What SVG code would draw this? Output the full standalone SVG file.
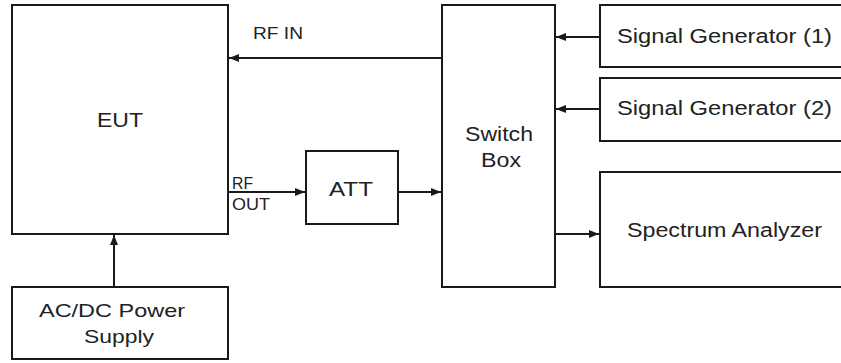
<svg xmlns="http://www.w3.org/2000/svg" width="841" height="363" viewBox="0 0 841 363">
  <style>
    .box { fill: #ffffff; stroke: #1a1a1a; stroke-width: 2; }
    .conn { stroke: #1a1a1a; stroke-width: 2; fill: none; marker-end: url(#arrow); }
    text { font-family: "Liberation Sans", Arial, sans-serif; fill: #222222; }
  </style>
  <defs>
    <marker id="arrow" markerUnits="userSpaceOnUse" markerWidth="10" markerHeight="8" refX="10" refY="4" orient="auto">
      <path d="M0,0 L10,4 L0,8 z" fill="#1a1a1a"/>
    </marker>
  </defs>
  <rect x="0" y="0" width="841" height="363" fill="#ffffff"/>

  <g id="eut">
    <rect class="box" x="12" y="5" width="216" height="229"/>
    <text x="97" y="127" font-size="21" textLength="46" lengthAdjust="spacingAndGlyphs">EUT</text>
  </g>
  <g id="psu">
    <rect class="box" x="12" y="287" width="216" height="72"/>
    <text x="39" y="317" font-size="19" textLength="146" lengthAdjust="spacingAndGlyphs">AC/DC Power</text>
    <text x="84" y="343" font-size="19" textLength="70" lengthAdjust="spacingAndGlyphs">Supply</text>
  </g>
  <g id="att">
    <rect class="box" x="306" y="151" width="92" height="73"/>
    <text x="329" y="196" font-size="21" textLength="44" lengthAdjust="spacingAndGlyphs">ATT</text>
  </g>
  <g id="switchbox">
    <rect class="box" x="442" y="5" width="113" height="282"/>
    <text x="465" y="141" font-size="20" textLength="68" lengthAdjust="spacingAndGlyphs">Switch</text>
    <text x="481" y="167" font-size="20" textLength="40" lengthAdjust="spacingAndGlyphs">Box</text>
  </g>
  <g id="siggen1">
    <rect class="box" x="600" y="5" width="250" height="62"/>
    <text x="617" y="43" font-size="20" textLength="215" lengthAdjust="spacingAndGlyphs">Signal Generator (1)</text>
  </g>
  <g id="siggen2">
    <rect class="box" x="600" y="78" width="250" height="63"/>
    <text x="617" y="115" font-size="20" textLength="215" lengthAdjust="spacingAndGlyphs">Signal Generator (2)</text>
  </g>
  <g id="spectrum">
    <rect class="box" x="600" y="172" width="250" height="115"/>
    <text x="627" y="237" font-size="20" textLength="195" lengthAdjust="spacingAndGlyphs">Spectrum Analyzer</text>
  </g>

  <g id="connectors">
    <line class="conn" x1="442" y1="58" x2="229" y2="58"/>
    <line class="conn" x1="228" y1="192" x2="305" y2="192"/>
    <line class="conn" x1="398" y1="192" x2="441" y2="192"/>
    <line class="conn" x1="600" y1="37" x2="556" y2="37"/>
    <line class="conn" x1="600" y1="109" x2="556" y2="109"/>
    <line class="conn" x1="555" y1="234" x2="599" y2="234"/>
    <line class="conn" x1="114" y1="287" x2="114" y2="235"/>
    <text x="253" y="39" font-size="17" textLength="50" lengthAdjust="spacingAndGlyphs">RF IN</text>
    <text x="232" y="189" font-size="16" textLength="21" lengthAdjust="spacingAndGlyphs">RF</text>
    <text x="232" y="210" font-size="16" textLength="38" lengthAdjust="spacingAndGlyphs">OUT</text>
  </g>
</svg>
